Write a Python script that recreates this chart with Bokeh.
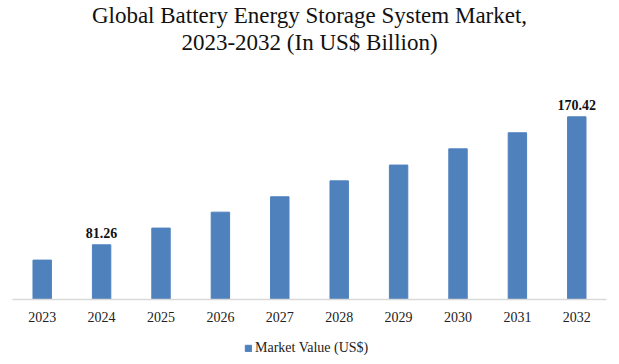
from bokeh.plotting import figure
from bokeh.layouts import column
from bokeh.models import Range1d, Title, Legend, LegendItem, ColumnDataSource, LabelSet
from bokeh.embed import file_html
from bokeh.resources import INLINE

years = ["2023", "2024", "2025", "2026", "2027", "2028", "2029", "2030", "2031", "2032"]
values = [70.6, 81.26, 92.9, 104.0, 114.7, 125.8, 136.8, 148.1, 159.3, 170.42]
label_years = ["2024", "2032"]
label_values = [81.26, 170.42]
series_name = "Market Value (US$)"
title_lines = ["Global Battery Energy Storage System Market,", "2023-2032 (In US$ Billion)"]

SERIF = "Liberation Serif"
BAR = "#4F81BD"

p = figure(x_range=years, y_range=Range1d(43.16, 197.1),
           width=610, height=330,
           output_backend="svg", toolbar_location=None,
           min_border_left=12, min_border_right=4, min_border_top=78, min_border_bottom=31,
           outline_line_color=None, background_fill_color="white", border_fill_color="white")

src = ColumnDataSource(dict(x=years, top=values))
r = p.vbar(x="x", top="top", bottom=0, width=0.31, source=src,
           fill_color=BAR, line_color=BAR)

lsrc = ColumnDataSource(dict(x=label_years, y=label_values,
                             t=["%.2f" % v for v in label_values]))
p.add_layout(LabelSet(x="x", y="y", text="t", source=lsrc, text_align="center",
                      text_baseline="bottom", y_offset=7, text_font=SERIF,
                      text_font_size="14px", text_font_style="bold", text_color="#111111"))

# spacer between the plot area and the two title lines
p.add_layout(Title(text=" ", text_font=SERIF, text_font_size="20px", standoff=0), "above")
for line in reversed(title_lines):
    p.add_layout(Title(text=line, align="center", text_font=SERIF, text_font_size="23px",
                       text_font_style="normal", text_color="#111111", standoff=0), "above")

p.yaxis.visible = False
p.xgrid.visible = False
p.ygrid.visible = False
p.xaxis.axis_line_color = "#D9D9D9"
p.xaxis.axis_line_width = 1.5
p.xaxis.major_tick_line_color = None
p.xaxis.minor_tick_line_color = None
p.xaxis.major_tick_out = 0
p.xaxis.major_label_standoff = 12
p.xaxis.major_label_text_font = SERIF
p.xaxis.major_label_text_font_size = "14px"
p.xaxis.major_label_text_color = "#222222"

# legend strip below the chart
lf = figure(x_range=years, y_range=Range1d(0, 1), width=610, height=30,
            output_backend="svg", toolbar_location=None,
            x_axis_location=None, y_axis_location=None, min_border=0,
            outline_line_color=None, background_fill_color="white", border_fill_color="white")
lf.xgrid.visible = False
lf.ygrid.visible = False
lr = lf.vbar(x="x", top="top", bottom=0, width=0.31, source=src,
             fill_color=BAR, line_color=BAR, visible=False)
legend = Legend(items=[LegendItem(label=series_name, renderers=[lr])],
                orientation="horizontal", location=(232, 4), click_policy="none",
                inactive_fill_alpha=0,
                label_text_font=SERIF, label_text_font_size="14px", label_text_color="#222222",
                glyph_width=8, glyph_height=8, border_line_color=None,
                background_fill_alpha=0,
                padding=2, margin=0, label_standoff=3)
lf.add_layout(legend)

layout = column(p, lf, spacing=0)
open("out.html", "w").write(file_html(layout, INLINE))
